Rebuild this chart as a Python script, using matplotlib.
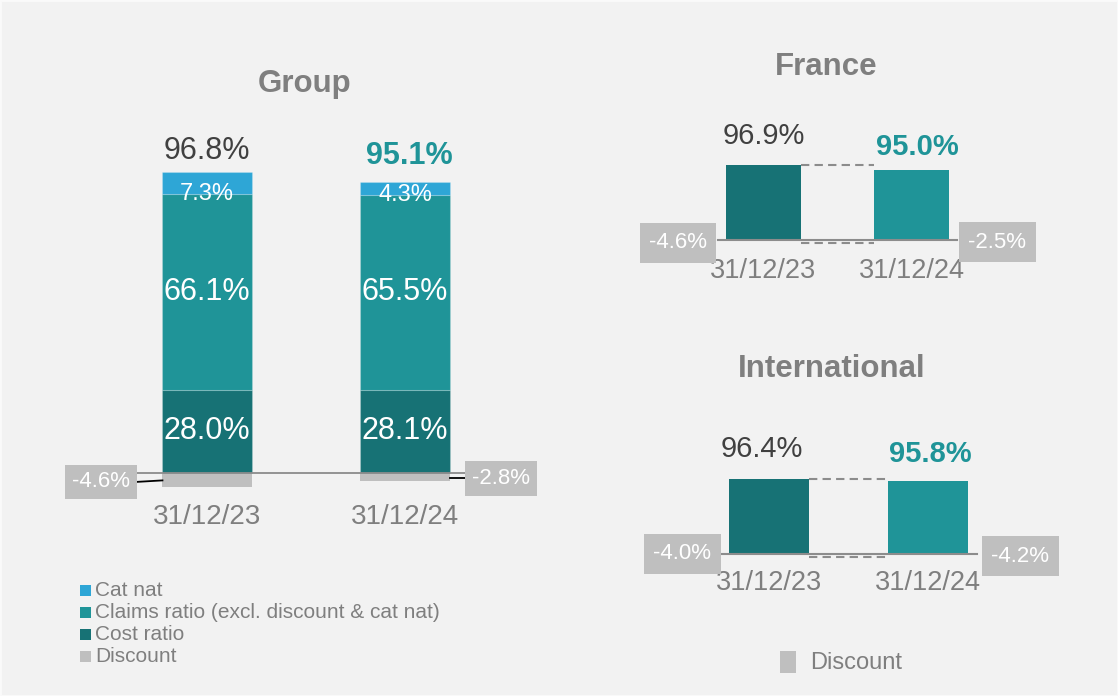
import matplotlib
matplotlib.use("Agg")
import matplotlib.pyplot as plt
from matplotlib.patches import Rectangle

plt.rcParams['font.family'] = ['Liberation Sans', 'DejaVu Sans']

# data
dates = ['31/12/23', '31/12/24']

group_cost = [28.0, 28.1]
group_claims = [66.1, 65.5]
group_catnat = [7.3, 4.3]
group_discount = [4.6, 2.8]
group_total = [96.8, 95.1]

france_total = [96.9, 95.0]
france_discount = [4.6, 2.5]

intl_total = [96.4, 95.8]
intl_discount = [4.0, 4.2]

legend_labels = ['Cat nat', 'Claims ratio (excl. discount & cat nat)', 'Cost ratio', 'Discount']

# colours
C_CAT = '#2ea6d6'
C_CLAIMS = '#1f9498'
C_COST = '#177275'
C_DISC = '#bfbfbf'
C_GREY = '#7f7f7f'
C_DARK = '#404040'
BG = '#f2f2f2'

W, H = 1118, 696
fig = plt.figure(figsize=(W / 100, H / 100), dpi=100, facecolor=BG)


def px_axes(x0, y0, x1, y1):
    ax = fig.add_axes([x0 / W, 1 - y1 / H, (x1 - x0) / W, (y1 - y0) / H])
    ax.set_facecolor('none')
    ax.axis('off')
    return ax


def box_label(ax, x, y, txt, pad=0.4, size=16):
    ax.text(x, y, txt, ha='center', va='center', color='white', fontsize=size,
            bbox=dict(boxstyle='square,pad=%s' % pad, fc=C_DISC, ec='none'),
            zorder=5, clip_on=False)


def value_label(ax, x, y, txt, dx, dy, bold, size):
    ax.annotate(txt, (x, y), xytext=(dx, dy), textcoords='offset points',
                ha='center', va='center', fontsize=size,
                color=C_CLAIMS if bold else C_DARK,
                fontweight='bold' if bold else 'normal', annotation_clip=False)


def date_label(ax, x, y, txt, dy, size):
    ax.annotate(txt, (x, y), xytext=(0, dy), textcoords='offset points',
                ha='center', va='center', fontsize=size, color=C_GREY,
                annotation_clip=False)


# ---------------- Group ----------------
ax = px_axes(88.2, 146.3, 523.8, 502.7)
ax.set_xlim(-0.6, 1.6)
ax.set_ylim(-10, 110)
x = [0, 1]
bw = 0.45
edge = dict(edgecolor=(1, 1, 1, 0.18), linewidth=0.8)
ax.bar(x, [-d for d in group_discount], width=bw, color=C_DISC, zorder=2)
ax.bar(x, group_cost, width=bw, color=C_COST, zorder=2, **edge)
bot2 = [a for a in group_cost]
ax.bar(x, group_claims, bottom=bot2, width=bw, color=C_CLAIMS, zorder=2, **edge)
bot3 = [a + b for a, b in zip(group_cost, group_claims)]
ax.bar(x, group_catnat, bottom=bot3, width=bw, color=C_CAT, zorder=2, **edge)
ax.plot([-0.354, 1.303], [0, 0], color='#8c8c8c', lw=1.3, zorder=3)

for i in range(2):
    ax.text(x[i], group_cost[i] / 2, '%.1f%%' % group_cost[i], ha='center', va='center',
            color='white', fontsize=22, zorder=4)
    ax.text(x[i], bot2[i] + group_claims[i] / 2, '%.1f%%' % group_claims[i], ha='center',
            va='center', color='white', fontsize=22, zorder=4)
    ax.text(x[i], bot3[i], '%.1f%%' % group_catnat[i], ha='center', va='center',
            color='white', fontsize=17, zorder=4)
    date_label(ax, x[i], 0, dates[i], -31.5, 20)

top = [a + b for a, b in zip(bot3, group_catnat)]
value_label(ax, x[0], top[0], '%.1f%%' % group_total[0], 0, 15, False, 22)
value_label(ax, x[1], top[1], '%.1f%%' % group_total[1], 3, 19, True, 22)

# discount boxes with connectors
y0 = -group_discount[0] * 0.65
y1 = -group_discount[1] * 0.65
ax.plot([-0.354, -bw / 2], [y0, y0 + 0.5], color='black', lw=1.3, zorder=3)
ax.plot([1 + bw / 2, 1.303], [y1, y1], color='black', lw=1.3, zorder=3)
box_label(ax, -0.535, y0, '-%.1f%%' % group_discount[0], pad=0.3)
box_label(ax, 1.485, y1, '-%.1f%%' % group_discount[1], pad=0.3)


# ---------------- France / International ----------------
def small_panel(box, xlim, ylim, base, totals, discounts, bw, boxes, lab_off, date_dy):
    ax = px_axes(*box)
    ax.set_xlim(*xlim)
    ax.set_ylim(*ylim)
    heights = [t - base for t in totals]
    ax.bar(x, heights, bottom=base, width=bw, color=[C_COST, C_CLAIMS], zorder=2)
    ax.plot([-0.31, 1.31], [base, base], color='#8c8c8c', lw=1.5, zorder=3)
    ls = (0, (4, 2.5))
    ax.plot([bw / 2, 1 - bw / 2], [totals[0], totals[0]], color='#8c8c8c', lw=1.5,
            ls=ls, zorder=1)
    ax.plot([bw / 2, 1 - bw / 2], [base - 1.2, base - 1.2], color='#8c8c8c', lw=1.5,
            ls=ls, zorder=1)
    for i in range(2):
        bx, by = boxes[i]
        box_label(ax, bx, base + by, '-%.1f%%' % discounts[i], pad=0.42)
        date_label(ax, x[i], base, dates[i], date_dy, 19.5)
        dx, dy = lab_off[i]
        value_label(ax, x[i], totals[i], '%.1f%%' % totals[i], dx, dy, i == 1, 21)
    return ax


small_panel((620, 100, 1060, 300), (-0.9696, 2.0034), (45.69, 121.73), 68.5,
            france_total, france_discount, 0.507,
            [(-0.578, -1.1), (1.58, -0.8)], [(0, 21), (4.3, 16.5)], -22.5)

small_panel((620, 410, 1080, 620), (-0.937, 1.956), (42.8, 122.65), 67.9,
            intl_total, intl_discount, 0.503,
            [(-0.544, 0.0), (1.58, -0.8)], [(-5, 21.5), (2, 19.5)], -21)

# ---------------- titles ----------------
for txt, px, py in [('Group', 305, 84), ('France', 826, 67), ('International', 832, 369)]:
    fig.text(px / W, 1 - py / H, txt, ha='center', va='center', fontsize=22.5,
             fontweight='bold', color=C_GREY)

# ---------------- legends ----------------
leg_colors = [C_CAT, C_CLAIMS, C_COST, C_DISC]
for i, (lab, col) in enumerate(zip(legend_labels, leg_colors)):
    yc = 590 + 22 * i
    fig.patches.append(Rectangle((80 / W, 1 - (yc + 5.5) / H), 11 / W, 11 / H,
                                 transform=fig.transFigure, fc=col, ec='none'))
    fig.text(95 / W, 1 - yc / H, lab, ha='left', va='center', fontsize=15, color=C_GREY)

fig.patches.append(Rectangle((780 / W, 1 - 673 / H), 16 / W, 22 / H,
                             transform=fig.transFigure, fc=C_DISC, ec='none'))
fig.text(810 / W, 1 - 663 / H, 'Discount', ha='left', va='center', fontsize=17, color=C_GREY)

fig.patches.append(Rectangle((0, 0), 1, 1, transform=fig.transFigure, fill=False,
                             ec='#fafafa', lw=2))

fig.savefig('out.png', dpi=100, facecolor=BG)
